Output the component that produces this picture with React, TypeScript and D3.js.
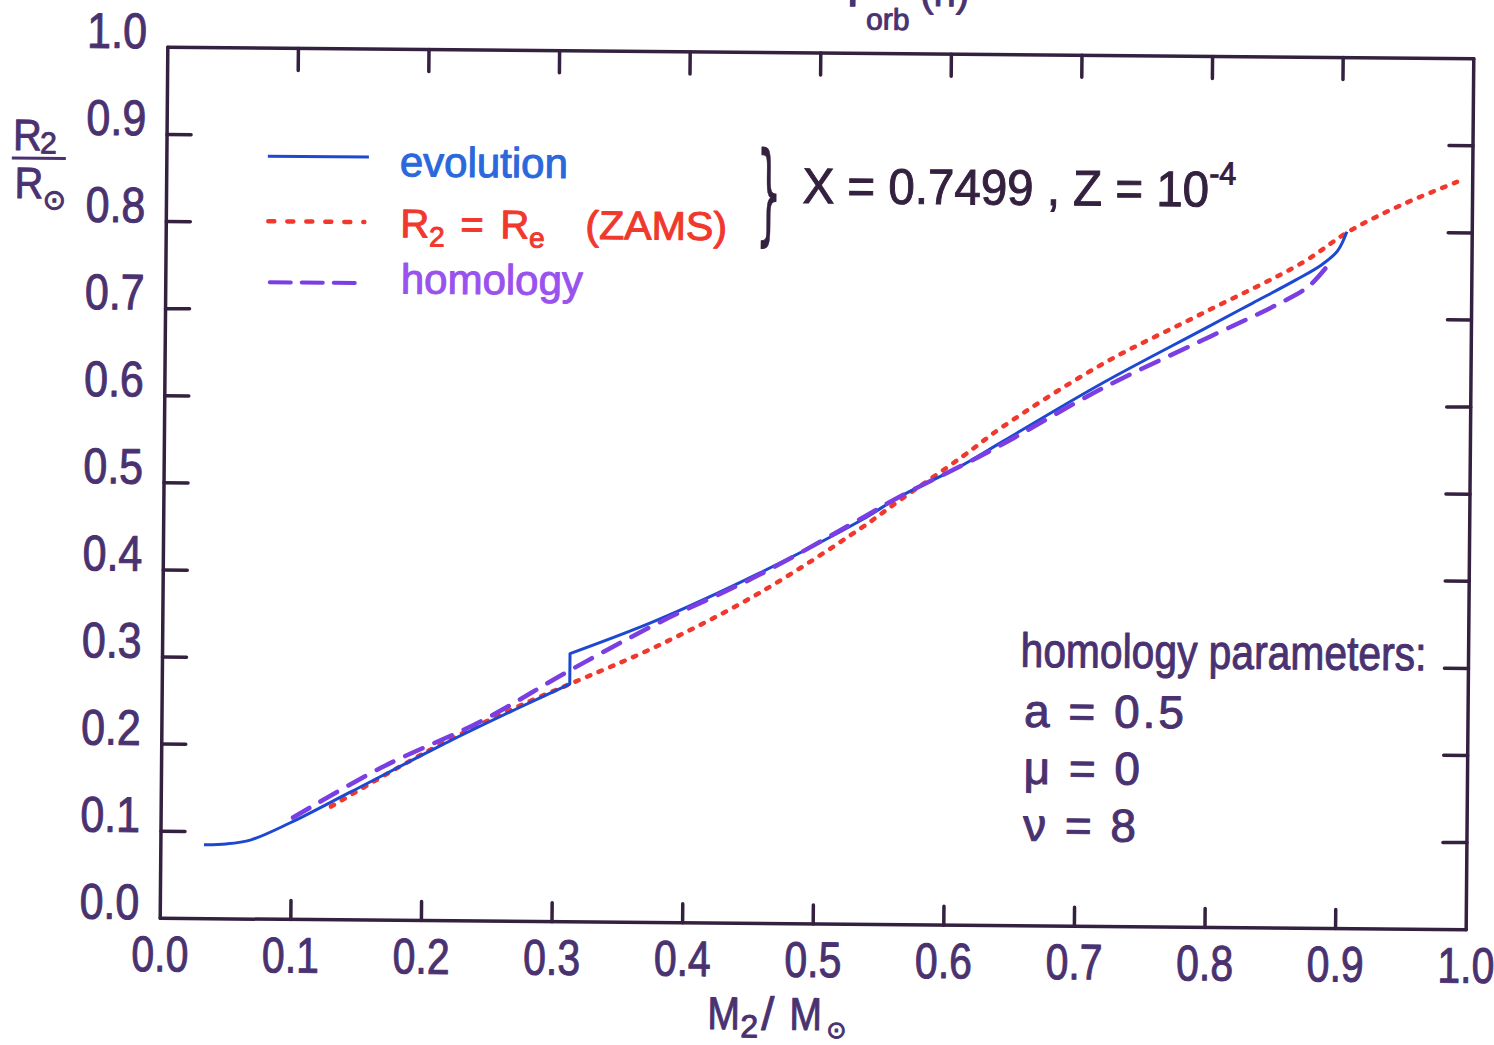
import React from "react";
import * as d3 from "d3";

// ---- data ----
const xTickValues = [0.1, 0.2, 0.3, 0.4, 0.5, 0.6, 0.7, 0.8, 0.9];
const yTickValues = [0.1, 0.2, 0.3, 0.4, 0.5, 0.6, 0.7, 0.8, 0.9];
const xLabelValues = [0, 0.1, 0.2, 0.3, 0.4, 0.5, 0.6, 0.7, 0.8, 0.9, 1.0];
const yLabelValues = [0, 0.1, 0.2, 0.3, 0.4, 0.5, 0.6, 0.7, 0.8, 0.9, 1.0];

// evolution (solid), before and after the jump near M2 = 0.31
const evolutionLow: [number, number][] = [
  [0.033, 0.085], [0.05, 0.086], [0.069, 0.091], [0.099, 0.111],
  [0.145, 0.147], [0.22, 0.206], [0.27, 0.243], [0.312, 0.273],
];
const evolutionHigh: [number, number][] = [
  [0.312, 0.308], [0.378, 0.347], [0.456, 0.402], [0.534, 0.464],
  [0.564, 0.492], [0.611, 0.528], [0.642, 0.556], [0.718, 0.624],
  [0.794, 0.686], [0.832, 0.717], [0.865, 0.744], [0.885, 0.762],
  [0.897, 0.778], [0.904, 0.80],
];
// R2 = Re (ZAMS), dotted
const zams: [number, number][] = [
  [0.13, 0.13], [0.203, 0.194], [0.27, 0.245], [0.312, 0.273],
  [0.378, 0.317], [0.456, 0.379], [0.534, 0.455], [0.564, 0.488],
  [0.611, 0.538], [0.642, 0.573], [0.718, 0.646], [0.794, 0.705],
  [0.87, 0.764], [0.905, 0.80], [0.945, 0.831], [0.994, 0.862],
];
// homology, dashed
const homology: [number, number][] = [
  [0.101, 0.117], [0.168, 0.175], [0.245, 0.23], [0.31, 0.287],
  [0.378, 0.343], [0.456, 0.40], [0.534, 0.466], [0.564, 0.492],
  [0.611, 0.528], [0.642, 0.553], [0.718, 0.618], [0.794, 0.674],
  [0.85, 0.715], [0.875, 0.737], [0.89, 0.762],
];

const legendLabels = ["evolution", "homology"];
const paramLines = ["a = 0.5", "\u03bc = 0", "\u03bd = 8"];

// ---- styling ----
const AXIS = "#34213f";
const LABEL = "#4a3271";
const BLUE = "#1d48d2";
const BLUE_TXT = "#2a68dc";
const RED = "#f0382c";
const PURPLE = "#7a3ee2";
const PURPLE_TXT = "#9a52ee";
const FONT = "'Liberation Sans', 'DejaVu Sans', Arial, sans-serif";

const W = 1494;
const H = 1045;

type TProps = {
  x: number; y: number; sx?: number; size: number; fill: string; ls?: number;
  anchor?: "start" | "middle" | "end"; children: React.ReactNode; family?: string; italic?: boolean;
};
function Txt({ x, y, sx = 1, size, fill, anchor = "start", children, family, italic, ls }: TProps) {
  return (
    <text
      transform={`translate(${x},${y}) scale(${sx},1)`}
      fontSize={size}
      fill={fill}
      stroke={fill}
      strokeWidth={1}
      strokeLinejoin="round"
      textAnchor={anchor}
      fontFamily={family || FONT}
      fontStyle={italic ? "italic" : "normal"}
      letterSpacing={ls || 0}
    >
      {children}
    </text>
  );
}

export default function App() {
  const x = d3.scaleLinear().domain([0, 1]).range([164, 1470]);
  const y = d3.scaleLinear().domain([0, 1]).range([924, 53]);

  const line = d3
    .line<[number, number]>()
    .x((d) => x(d[0]))
    .y((d) => y(d[1]))
    .curve(d3.curveCatmullRom.alpha(0.5));

  const evoPath =
    (line(evolutionLow) || "") + (line(evolutionHigh) || "").replace(/^M/, "L");

  const x0 = x(0), x1 = x(1), y0 = y(0), y1 = y(1);

  return (
    <svg
      width={W}
      height={H}
      style={{ position: "absolute", left: 0, top: 0, background: "#ffffff" }}
    >
      <rect x={0} y={0} width={W} height={H} fill="#ffffff" />
      <g transform="rotate(0.5, 815, 488)">
        {/* frame */}
        <g stroke={AXIS} strokeWidth={3.5} strokeLinecap="round" fill="none">
          <line x1={x0} y1={y0} x2={x1} y2={y0} />
          <line x1={x0} y1={y0} x2={x0} y2={y1} />
          <line x1={x0} y1={y1} x2={x1} y2={y1} />
          <line x1={x1} y1={y1} x2={x1} y2={y0} />
          {xTickValues.map((v) => (
            <g key={"xt" + v}>
              <line x1={x(v)} x2={x(v)} y1={y0} y2={y0 - 19} />
              <line x1={x(v)} x2={x(v)} y1={y1} y2={y1 + 22} />
            </g>
          ))}
          {yTickValues.map((v) => (
            <g key={"yt" + v}>
              <line x1={x0} x2={x0 + 24} y1={y(v)} y2={y(v)} />
              <line x1={x1} x2={x1 - 24} y1={y(v)} y2={y(v)} />
            </g>
          ))}
        </g>

        {/* tick labels */}
        {xLabelValues.map((v) => (
          <Txt key={"xl" + v} x={x(v)} y={y0 + 53} size={50} sx={0.82} fill={LABEL} anchor="middle">
            {v.toFixed(1)}
          </Txt>
        ))}
        {yLabelValues.map((v) => (
          <Txt key={"yl" + v} x={143} y={y(v) + 1} size={50} sx={0.86} fill={LABEL} anchor="end">
            {v.toFixed(1)}
          </Txt>
        ))}

        {/* y-axis label R2 / R_sun */}
        <Txt x={10} y={157} size={44} sx={0.9} fill={LABEL}>R</Txt>
        <Txt x={37} y={160} size={30} fill={LABEL}>2</Txt>
        <line x1={9} x2={63} y1={165} y2={165} stroke={LABEL} strokeWidth={3} />
        <Txt x={12} y={205} size={44} sx={0.9} fill={LABEL}>R</Txt>
        <Txt x={40} y={216} size={28} fill={LABEL} family="'DejaVu Sans', sans-serif">{"\u2299"}</Txt>

        {/* x-axis label M2 / M_sun */}
        <Txt x={712} y={1030} size={46} sx={0.85} fill={LABEL}>M</Txt>
        <Txt x={745} y={1038} size={32} fill={LABEL}>2</Txt>
        <Txt x={766} y={1030} size={46} fill={LABEL}>/</Txt>
        <Txt x={794} y={1030} size={46} sx={0.85} fill={LABEL}>M</Txt>
        <Txt x={831} y={1038} size={24} fill={LABEL} family="'DejaVu Sans', sans-serif">{"\u2299"}</Txt>

        {/* top title (cut off at the page edge, as in the scan) */}
        <Txt x={842} y={6} size={50} fill={LABEL}>P</Txt>
        <Txt x={862} y={29} size={30} fill={LABEL}>orb</Txt>
        <Txt x={916} y={5} size={40} fill={LABEL}>(h)</Txt>

        {/* curves */}
        <path d={line(zams) || ""} fill="none" stroke={RED} strokeWidth={4.5}
          strokeDasharray="3.5 9" strokeLinecap="round" />
        <path d={evoPath} fill="none" stroke={BLUE} strokeWidth={3} strokeLinejoin="round" />
        <path d={line(homology) || ""} fill="none" stroke={PURPLE} strokeWidth={4.5}
          strokeDasharray="19 13" strokeLinecap="round" />

        {/* legend */}
        <line x1={265} x2={366} y1={161} y2={161} stroke={BLUE} strokeWidth={3} />
        <Txt x={397} y={180} size={42} fill={BLUE_TXT}>{legendLabels[0]}</Txt>

        <line x1={266} x2={362} y1={226} y2={226} stroke={RED} strokeWidth={4.5}
          strokeDasharray="6 13" strokeLinecap="round" />
        <Txt x={398} y={241} size={40} fill={RED}>R</Txt>
        <Txt x={427} y={250} size={28} fill={RED}>2</Txt>
        <Txt x={458} y={241} size={40} fill={RED}>=</Txt>
        <Txt x={498} y={241} size={40} fill={RED}>R</Txt>
        <Txt x={527} y={250} size={28} fill={RED}>e</Txt>
        <Txt x={583} y={241} size={40} sx={1.03} fill={RED}>(ZAMS)</Txt>

        <line x1={268} x2={364} y1={287} y2={287} stroke={PURPLE} strokeWidth={4}
          strokeDasharray="21 11" strokeLinecap="round" />
        <Txt x={399} y={297} size={42} fill={PURPLE_TXT}>{legendLabels[1]}</Txt>

        {/* brace and composition */}
        <Txt x={754} y={231} size={110} sx={0.35} fill={AXIS} family="'DejaVu Sans', sans-serif">{"}"}</Txt>
        <text transform="translate(800,203) scale(0.95,1)" fontSize={50} fill={AXIS} stroke={AXIS}
          strokeWidth={1} fontFamily={FONT}>
          X = 0.7499 , Z = 10
          <tspan fontSize={32} dy={-22}>-4</tspan>
        </text>

        {/* homology parameters */}
        <Txt x={1022} y={665} size={48} sx={0.85} fill={LABEL}>homology parameters:</Txt>
        {paramLines.map((s, i) => (
          <Txt key={s} x={1026} y={725 + i * 57} size={46} sx={1.0} ls={3} fill={LABEL}>{s}</Txt>
        ))}
      </g>
    </svg>
  );
}
